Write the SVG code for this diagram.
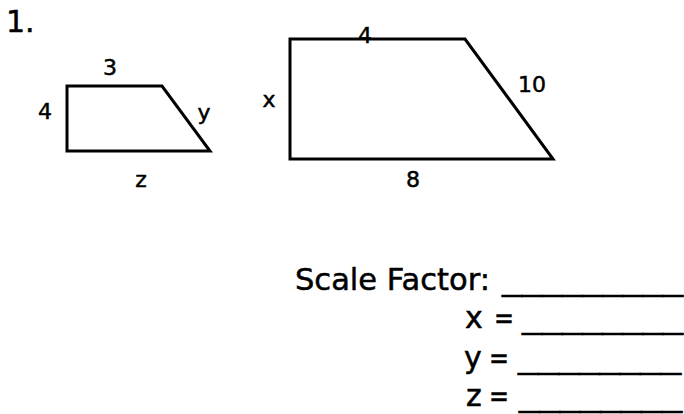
<svg xmlns="http://www.w3.org/2000/svg" width="684" height="414" viewBox="0 0 684 414">
<style>
text{font-family:"DejaVu Sans","Liberation Sans",sans-serif;fill:#000;stroke:#000;stroke-width:0.5}
.lbl{font-size:22px;text-anchor:middle}
.big{font-size:30px}
.shape{fill:none;stroke:#000;stroke-width:3;stroke-linejoin:miter}
</style>
<rect width="684" height="414" fill="#fff"/>
<text class="big" x="6" y="32">1.</text>
<g id="small-trapezoid">
<polygon class="shape" points="67,86 162,86 210,151 67,151"/>
<text class="lbl" x="110" y="75">3</text>
<text class="lbl" x="45" y="119">4</text>
<text class="lbl" x="204" y="120">y</text>
<text class="lbl" x="141" y="187">z</text>
</g>
<g id="large-trapezoid">
<polygon class="shape" points="290,39 465,39 553,159 290,159"/>
<text class="lbl" x="365" y="43">4</text>
<text class="lbl" x="532" y="92">10</text>
<text class="lbl" x="269" y="107">x</text>
<text class="lbl" x="413" y="187">8</text>
</g>
<g id="answers">
<text class="big" y="290"><tspan x="295" textLength="195" lengthAdjust="spacingAndGlyphs">Scale Factor:</tspan><tspan x="502" textLength="181" lengthAdjust="spacingAndGlyphs">_________</tspan></text>
<text class="big" y="328"><tspan x="465">x</tspan> <tspan x="494" textLength="20" lengthAdjust="spacingAndGlyphs">=</tspan><tspan x="522" textLength="161" lengthAdjust="spacingAndGlyphs">________</tspan></text>
<text class="big" y="368"><tspan x="464">y</tspan> <tspan x="489" textLength="20" lengthAdjust="spacingAndGlyphs">=</tspan><tspan x="518" textLength="163" lengthAdjust="spacingAndGlyphs">________</tspan></text>
<text class="big" y="406"><tspan x="466">z</tspan> <tspan x="489" textLength="20" lengthAdjust="spacingAndGlyphs">=</tspan><tspan x="519" textLength="163" lengthAdjust="spacingAndGlyphs">________</tspan></text>
</g>
</svg>
